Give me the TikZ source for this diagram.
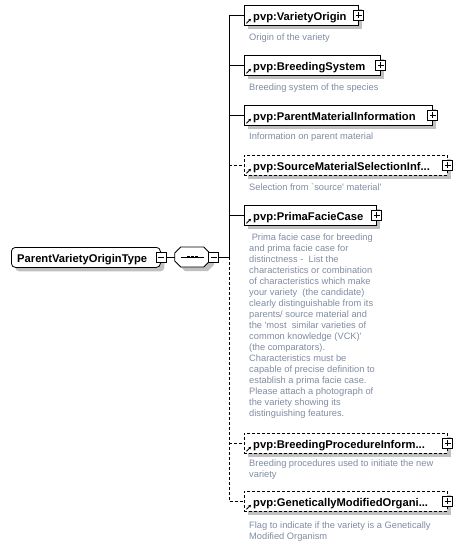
\documentclass[tikz,border=0pt]{standalone}
\usepackage{fontspec}
\setmainfont{Liberation Sans}
\usetikzlibrary{shadows,arrows.meta}
\definecolor{shadowgray}{RGB}{192,192,192}
\definecolor{desccol}{RGB}{128,140,162}
\begin{document}
\begin{tikzpicture}[x=1pt,y=-1pt,
  sh/.style={drop shadow={shadow xshift=4pt,shadow yshift=-4pt,fill=shadowgray,opacity=1}},
  elem/.style={draw, line width=0.8pt, fill=white, minimum height=20pt, inner sep=0pt, anchor=north west, sh},
  opt/.style={elem, dash pattern=on 3pt off 2pt},
  ename/.style={font=\fontsize{11.2}{13}\selectfont\bfseries, inner sep=0pt, anchor=base west},
  desc/.style={font=\fontsize{9.3}{11}\selectfont, text=desccol, inner sep=0pt, anchor=north west, align=left},
  pm/.style={draw, line width=0.8pt, fill=white, minimum size=10pt, inner sep=0pt},
  minusbox/.style={pm, path picture={\draw[line width=0.8pt] ([xshift=2pt]path picture bounding box.west) -- ([xshift=-2pt]path picture bounding box.east);}},
  plusbox/.style={pm, path picture={\draw[line width=0.8pt] ([xshift=2pt]path picture bounding box.west) -- ([xshift=-2pt]path picture bounding box.east) ([yshift=-2pt]path picture bounding box.north) -- ([yshift=2pt]path picture bounding box.south);}},
  refarrow/.style={-{Stealth[length=2.6pt,width=2.8pt]}, line width=0.9pt},
  conn/.style={line width=0.8pt},
  optconn/.style={line width=0.8pt, dash pattern=on 3pt off 2pt}
]
\useasboundingbox (0,0) rectangle (460,546);

% root element
\node[elem, rounded corners=4pt, minimum width=149pt] (root) at (11,247) {};
\node[ename] (rootname) at (17,262) {ParentVarietyOriginType};
\node[minusbox] (rootminus) at (161,257) {};

% sequence compositor
\node[minimum width=35pt, minimum height=20pt, inner sep=0pt] (seq) at (192.5,257) {};
\fill[shadowgray] ([shift={(4pt,-4pt)}]seq.west) ++(0,-4) -- ++(6,-6) -- ++(23,0) -- ++(6,6) -- ++(0,8) -- ++(-6,6) -- ++(-23,0) -- ++(-6,-6) -- cycle;
\filldraw[line width=0.8pt, fill=white] (seq.west) ++(0,-4) -- ++(6,-6) -- ++(23,0) -- ++(6,6) -- ++(0,8) -- ++(-6,6) -- ++(-23,0) -- ++(-6,-6) -- cycle;
\draw[line width=0.8pt] ([xshift=6pt]seq.west) -- ([xshift=-6pt]seq.east);
\foreach \dx in {-4,0,4} \fill ([xshift=\dx pt]seq.center) ++(-1.3,-1.3) rectangle ++(2.6,2.6);
\node[minusbox] (seqminus) at (213.5,257) {};
\coordinate (trunk) at (229,257);
\draw[conn] (rootminus) -- (seq);
\draw[conn] (seqminus) -- (trunk);

% children
\node[elem, minimum width=114pt] (c1) at (244,5) {};
\node[elem, minimum width=136pt] (c2) at (244,55) {};
\node[elem, minimum width=188pt] (c3) at (244,105) {};
\node[opt,  minimum width=203pt] (c4) at (244,155) {};
\node[elem, minimum width=132pt] (c5) at (244,205) {};
\node[opt,  minimum width=203pt] (c6) at (244,433) {};
\node[opt,  minimum width=203pt] (c7) at (244,491) {};

\foreach \c in {c1,c2,c3,c4,c5,c6,c7} {
  \node[plusbox] (\c plus) at (\c.east) {};
  \draw[refarrow] ([shift={(2.5pt,2.5pt)}]\c.south west) -- ++(4.5,-4.5);
}

\node[ename] (n1) at (253,20) {pvp:VarietyOrigin};
\node[ename] (n2) at (253,70) {pvp:BreedingSystem};
\node[ename] (n3) at (253,120) {pvp:ParentMaterialInformation};
\node[ename] (n4) at (253,170) {pvp:SourceMaterialSelectionInf...};
\node[ename] (n5) at (253,220) {pvp:PrimaFacieCase};
\node[ename] (n6) at (253,448) {pvp:BreedingProcedureInform...};
\node[ename] (n7) at (253,506) {pvp:GeneticallyModifiedOrgani...};

% connectors
\draw[conn] (trunk) |- (c1.west);
\draw[conn] (trunk) |- (c2.west);
\draw[conn] (trunk) |- (c3.west);
\draw[conn] (trunk) |- (c5.west);
\draw[optconn] (trunk |- c4.west) -- (c4.west);
\draw[optconn] (trunk) -- (trunk |- c7.west) -- (c7.west);
\draw[optconn] (trunk |- c6.west) -- (c6.west);

% descriptions
\node[desc] (d1) at (249,33) {\strut Origin of the variety};
\node[desc] (d2) at (249,83) {\strut Breeding system of the species};
\node[desc] (d3) at (249,132) {\strut Information on parent material};
\node[desc] (d4) at (249,183) {\strut Selection from \textasciigrave source\textquotesingle\ material\textquotesingle};
\node[desc] (d5) at (249,233) {\strut\ Prima facie case for breeding\\
and prima facie case for\\
distinctness -\ \ List the\\
characteristics or combination\\
of characteristics which make\\
your variety\ \ (the candidate)\\
clearly distinguishable from its\\
parents/ source material and\\
the \textquotesingle most\ \ similar varieties of\\
common knowledge (VCK)\textquotesingle\\
(the comparators).\\
Characteristics must be\\
capable of precise definition to\\
establish a prima facie case.\\
Please attach a photograph of\\
the variety showing its\\
distinguishing features.};
\node[desc] (d6) at (249,459) {\strut Breeding procedures used to initiate the new\\variety};
\node[desc] (d7) at (249,521) {\strut Flag to indicate if the variety is a Genetically\\Modified Organism};
\end{tikzpicture}
\end{document}
